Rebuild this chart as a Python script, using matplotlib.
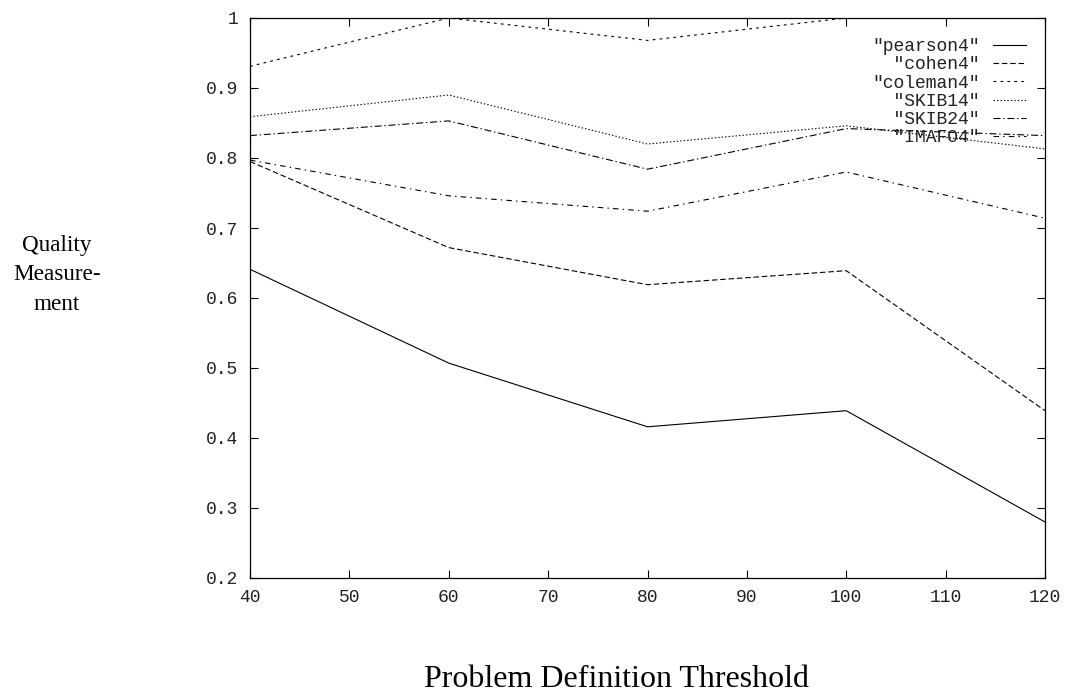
import matplotlib
matplotlib.use("Agg")
import matplotlib.pyplot as plt

thresholds = [40, 60, 80, 100, 120]
pearson4 = [0.641, 0.507, 0.416, 0.439, 0.280]
cohen4 = [0.795, 0.672, 0.619, 0.639, 0.439]
coleman4 = [0.931, 1.0, 0.968, 1.0, 1.0]
skib14 = [0.859, 0.890, 0.820, 0.846, 0.813]
skib24 = [0.832, 0.853, 0.784, 0.842, 0.832]
imafo4 = [0.797, 0.746, 0.724, 0.780, 0.714]

series_names = ['"pearson4"', '"cohen4"', '"coleman4"', '"SKIB14"', '"SKIB24"', '"IMAFO4"']
series_values = [pearson4, cohen4, coleman4, skib14, skib24, imafo4]
dash_styles = [None, (4, 2), (2, 3), (1, 1.5), (5, 2, 1, 2), (4, 3, 1, 3)]

x_ticks = [40, 50, 60, 70, 80, 90, 100, 110, 120]
y_ticks = [0.2, 0.3, 0.4, 0.5, 0.6, 0.7, 0.8, 0.9, 1.0]
y_tick_labels = ["0.2", "0.3", "0.4", "0.5", "0.6", "0.7", "0.8", "0.9", "1"]

plt.rcParams['lines.scale_dashes'] = False

fig = plt.figure(figsize=(10.66, 6.95), dpi=100)
ax = fig.add_axes([250 / 1066, 1 - 578 / 695, 795 / 1066, 560 / 695])

width = max(len(n) for n in series_names)
for name, vals, ds in zip(series_names, series_values, dash_styles):
    label = name.rjust(width)
    if ds is None:
        ax.plot(thresholds, vals, color="black", lw=0.8, label=label)
    else:
        ax.plot(thresholds, vals, color="black", lw=0.8, dashes=ds, label=label)

ax.set_xlim(40, 120)
ax.set_ylim(0.2, 1.0)
ax.set_xticks(x_ticks)
ax.set_xticklabels([str(t) for t in x_ticks])
ax.set_yticks(y_ticks)
ax.set_yticklabels(y_tick_labels)

mono = "Liberation Mono"
for lab in ax.get_xticklabels() + ax.get_yticklabels():
    lab.set_fontfamily(mono)
    lab.set_fontsize(13)
    lab.set_color("#222222")

ax.tick_params(direction="in", length=6, width=0.8, top=True, right=True)
ax.tick_params(axis="x", pad=8)
ax.tick_params(axis="y", pad=8.6)
for sp in ax.spines.values():
    sp.set_linewidth(0.9)

leg = ax.legend(loc="upper right", bbox_to_anchor=(0.976, 0.964), frameon=False,
                markerfirst=False, handlelength=1.83, handletextpad=0.72,
                labelspacing=0.07, borderpad=0, borderaxespad=0,
                prop={"family": mono, "size": 13})
for t in leg.get_texts():
    t.set_color("#222222")

serif = "Liberation Serif"
fig.text(57 / 1066, 1 - 275 / 695, "Quality\nMeasure-\nment", ha="center", va="center",
         family=serif, fontsize=16.7, linespacing=1.52)
fig.text(616 / 1066, 1 - 687 / 695, "Problem Definition Threshold", ha="center", va="baseline",
         family=serif, fontsize=23)

fig.savefig("out.png", dpi=100)
